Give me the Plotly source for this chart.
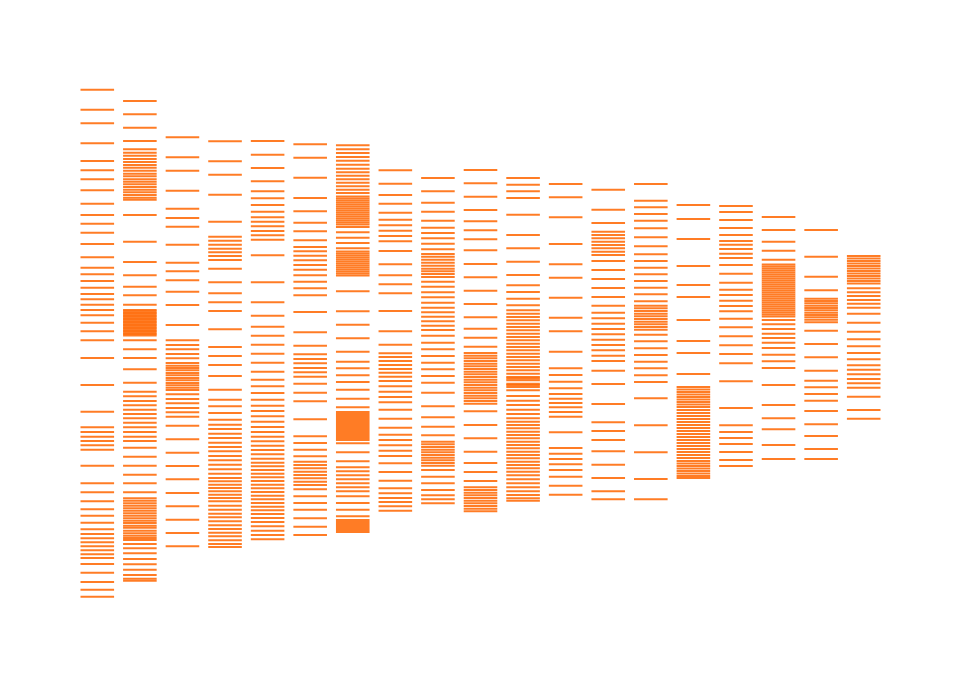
import plotly.graph_objects as go

categories = [f"G{i+1}" for i in range(19)]

g1 = [510.3, 490.3, 476.7, 456.7, 439, 429.7, 420.7, 409.7, 396.3, 385, 376.3, 367.3, 356, 342.7, 332.3, 325.7,
      319, 312.3, 306, 300.7, 295.3, 290, 284.7, 277.3, 268.7, 259.7, 242, 215, 188.3, 172.7, 168, 163.3, 159,
      154.7, 150.3, 134.3, 116.7, 107.7, 98.7, 90.7, 84.3, 77.3, 70.7, 66, 61.7, 57.7, 53.7, 49.7, 45.7, 42, 36,
      27.3, 18, 10.3, 3.3]
g2 = [499, 485.7, 472.3, 459, 450.7, 447.3, 444.3, 441, 438, 435, 432.3, 429.3, 426.3, 423.7, 420.7, 418.3, 415.7,
      413, 410.3, 407.7, 405, 402.3, 400.3, 385, 358.3, 338, 324.7, 313.3, 304.7, 295.3, 290, 288.5, 287, 285.5,
      284, 282.5, 281, 279.5, 278, 276.5, 275, 273.5, 272, 270.5, 269, 267.5, 266, 264.5, 259.7, 250.7, 242,
      230.7, 217.3, 208.3, 203.7, 199, 194.7, 190.3, 186, 181.7, 177.3, 172.7, 168, 163.3, 159, 152.3, 143.3,
      134.3, 125.3, 116.7, 107.7, 101.7, 99.3, 96.7, 94.3, 91.7, 89.3, 86.7, 84.3, 81.7, 79.3, 77, 74.3, 72.3,
      69.3, 66.7, 64.3, 62, 60, 56, 51.7, 46.7, 41, 35.7, 30.3, 25, 21.3, 19.3]
g3 = [462.7, 442.7, 429.3, 409.3, 391.3, 382, 373.3, 355.3, 337.3, 328.7, 319.7, 308.3, 295, 275, 259.7, 255,
      250.7, 246, 241.7, 237, 234.3, 232, 229.7, 227, 224.7, 222, 219.7, 217, 214.7, 212.3, 210, 205.7, 201,
      196.7, 192, 187.7, 183.3, 174.3, 160.7, 147.3, 134, 120.7, 107, 93.7, 80.3, 67, 53.7]
g4 = [458.7, 438.7, 425.3, 405.3, 378.3, 363.3, 359.3, 355.3, 351.3, 347.7, 344, 340, 331.3, 317.7, 306.7, 297.7,
      289, 270.7, 253, 244, 235, 224, 210.3, 200.3, 193.7, 187, 180.3, 175.3, 171, 166.3, 162, 157.3, 153,
      148.7, 144, 139.7, 135.3, 130.7, 126.3, 122, 118.7, 115.3, 112, 108.7, 105.3, 102, 98.7, 94.3, 90.3, 86.3,
      82.7, 78.7, 74.7, 71, 67.3, 63.7, 59.7, 56, 53]
g5 = [459, 445.3, 432, 418.7, 408.7, 401.7, 395, 388.3, 382.7, 378.3, 373.7, 369, 364.7, 360.3, 344.7, 317.7,
      297.7, 284.3, 273.3, 264.3, 255.3, 246.3, 237.3, 228.3, 220.3, 213.7, 207, 200.3, 194.3, 189, 183.7,
      178.3, 173, 168, 163.3, 158.7, 154.3, 150, 145.7, 141.3, 137.3, 133.7, 130, 126.3, 122.7, 119, 115.3,
      111.7, 108, 104.3, 100.7, 97, 93.3, 89.7, 86, 82, 78, 73.7, 69.3, 65, 60.7]
g6 = [455.7, 442.3, 422.3, 402, 388.7, 377.3, 368.7, 359.7, 353, 348.7, 344.3, 339.7, 335, 330.3, 324.7, 318.3,
      311.7, 304.7, 288, 267.7, 254.3, 245.7, 241, 236.7, 232, 227.7, 223.3, 216.3, 207.3, 198.7, 180.7, 163.7,
      157, 150.3, 143.7, 138.3, 135, 131.7, 128.3, 125, 121.7, 118.3, 115, 110.7, 103.7, 97, 90.3, 81.7, 73.3, 65]
g7 = [454.7, 450.7, 447, 443, 439.3, 435.3, 431.3, 427.7, 424.3, 420.7, 417.3, 413.7, 410.3, 407,
      403.5, 401.5, 399.5, 397.5, 395.5, 393.5, 391.5, 389.5, 387.5, 385.5, 383.5, 381.5, 379.5, 377.5, 375.5,
      373, 367.7, 362.3, 357, 351.7,
      348.5, 346.5, 344.5, 342.5, 340.5, 338.5, 336.5, 334.5, 332.5, 330.5, 328.5, 326.5, 324.5,
      308.7, 288.7, 275.3, 261.7, 248.3, 238.3, 231.7, 224.7, 218, 210.3, 201.3, 192.7,
      188, 186, 184, 182, 180, 178, 176, 174, 172, 170, 168, 166, 164, 162, 160,
      156.7, 147.7, 138.7, 132.7, 128.7, 124.7, 120.7, 116.7, 112.7, 108.7, 103.7, 97,
      90.3, 83.7, 80, 78, 76, 74, 72, 70, 68]
g8 = [429.7, 416.3, 405, 396.3, 387.3, 380.3, 374.7, 369.3, 364, 358.7, 349, 335.7, 324.7, 315.7, 306.7, 289,
      268.7, 255.3, 246.7, 243, 239, 235, 231, 227.3, 223.3, 219, 213.7, 208.3, 203, 197.7, 190.3, 181.3,
      172.3, 165.3, 160, 154.7, 149.3, 144, 136.7, 128, 119.3, 111.7, 106.7, 102, 98, 93.7, 89.3]
g9 = [422, 408.7, 397.3, 388.3, 379.3, 372.3, 367, 361.7, 356.3, 350.7, 346, 343.3, 340.3, 337.3, 334.3, 331.3,
      328.7, 326, 323, 318.3, 313.3, 307.7, 302.7, 297.3, 292.3, 287.7, 283.3, 278.7, 274.3, 270, 264.3,
      257.3, 250.7, 244, 237.3, 230.7, 224, 217.3, 207.3, 193.7, 182.7, 173.3, 164.7, 158.3, 155.7, 153,
      150.3, 147.7, 145, 142.3, 139.7, 137, 134.3, 130, 123.3, 116.7, 110, 104.7, 100.7, 96.7]
g10 = [430, 416.7, 403.3, 390, 378.7, 369.7, 360.7, 349.7, 336, 322.7, 309.3, 296, 282.7, 271.3, 262.3, 253.3,
       247, 244.3, 241.7, 239, 236.3, 233.7, 231, 228.3, 225.7, 223, 220.3, 217.7, 215, 212.3, 209.7, 207,
       204.3, 201.7, 199, 196.3, 188.7, 175, 161.7, 148.3, 137, 128, 119, 112.7, 110, 107.3, 104.7, 102, 99.3,
       96.7, 94, 91.3, 88.7]
g11 = [422, 415.3, 408.7, 402, 385.3, 365, 351.7, 338.3, 325, 314.7, 308, 301.3, 294.7, 289.7, 286.3, 283,
       279.7, 276.3, 273, 269.7, 266.3, 263, 259.7, 256.3, 253, 249.7, 246.3, 243, 239.7, 236.3, 233,
       229.7, 226.3, 223, 221.5, 219.7, 216.3, 215, 213, 209.7, 204, 199.3, 195,
       190.3, 186, 181.7, 178.3, 175, 171.7, 168.3, 165, 161.7, 158.3, 155, 151.7, 148.3, 145, 141.7, 138.3,
       135, 131.7, 128.3, 124.7, 120.7, 116.7, 112.7, 108.7, 105, 101.7, 99.3]
g12 = [416, 402.7, 382.7, 356, 335.7, 322.3, 302.3, 282.3, 268.7, 248.3, 231.7, 225, 218.3, 211.7, 206, 201.3,
       197, 192.7, 188, 183.3, 167.7, 152, 146.3, 141, 135.7, 130, 123.3, 114.3, 105.3]
g13 = [410.3, 390.3, 377, 368.3, 365, 361.7, 358.3, 355, 351.7, 348.3, 345, 339, 330, 321, 312, 303, 294.3,
       287.3, 281.7, 276.3, 271, 265.7, 260.3, 255, 249.7, 244.3, 239, 229.3, 216, 196, 177.7, 169, 160,
       148.7, 135.3, 122, 108.7, 100.7]
g14 = [416, 399.3, 392.7, 386, 379.3, 371.7, 362.7, 353.7, 345.7, 339, 332.3, 325.7, 319, 312.3, 305.7, 298.7,
       294.3, 291.7, 289, 286.3, 283.7, 281, 278.3, 275.7, 273, 270.3, 265.3, 258.7, 251.7, 245, 238.3, 231.7,
       224.7, 218, 201.7, 174.7, 147.7, 121, 100.7]
g15 = [395, 381, 361, 334, 315, 303, 280, 259, 247, 226, 213, 210.5, 208, 205.5, 203, 200.5, 198, 195.5, 193,
       190, 187, 184, 181, 178, 175, 172, 169, 166, 163, 160, 157, 154, 151, 148, 145, 142, 139, 136.5, 134,
       131.5, 129, 126.5, 124, 122]
g16 = [394, 388, 380, 372, 365, 359, 355.3, 351, 346.3, 342, 335, 326.3, 317.3, 310.3, 305, 299.3, 294, 288.7,
       281.3, 272.7, 263.7, 254.7, 246, 236.7, 218.7, 192, 174.7, 168, 162, 156, 148, 140, 134]
g17 = [383, 370, 358.3, 349.3, 340.3, 335.5, 333.5, 331.5, 329.5, 327.5, 325.5, 323.5, 321.5, 319.5, 317.5,
       315.5, 313.5, 311.5, 309.5, 307.5, 305.5, 303.5, 301.5, 299.5, 297.5, 295.5, 293.5, 291.5, 289.5,
       287.5, 285.5, 283.5, 280, 275.7, 271, 266.3, 262, 257.3, 252, 245.3, 238.7, 232, 215, 195, 181.7,
       170.7, 155, 141]
g18 = [370, 343.3, 323.3, 309.7, 301.3, 299, 296.7, 294.3, 292, 289.7, 287.3, 285, 282.7, 280.3, 277.7, 269.3,
       256, 242.7, 229.3, 219.3, 212.7, 206, 199.3, 189, 175.7, 164, 151, 141]
g19 = [344, 341.5, 339, 336.5, 334, 331.5, 329, 326.5, 324, 321.5, 319, 316.5, 311.7, 307.7, 304, 300, 296.3,
       292.3, 286.3, 277.3, 268.3, 260.7, 253.7, 247, 240.7, 234.7, 230.3, 225.7, 221, 216.7, 212.3, 203.3,
       190, 181.3]

series = [g1, g2, g3, g4, g5, g6, g7, g8, g9, g10, g11, g12, g13, g14, g15, g16, g17, g18, g19]

fig = go.Figure()
for i, vals in enumerate(series):
    fig.add_trace(go.Scatter(
        x=[i] * len(vals), y=vals, mode="markers", showlegend=False,
        marker=dict(symbol="line-ew", size=24, color="rgb(255,102,0)", opacity=0.85,
                    line=dict(color="rgb(255,102,0)", width=2)),
        name=categories[i],
    ))

fig.update_layout(
    width=960, height=686,
    margin=dict(l=68, r=83, t=67, b=69),
    paper_bgcolor="white", plot_bgcolor="white",
    xaxis=dict(visible=False, range=[-0.5, 18.5]),
    yaxis=dict(visible=False, range=[-25, 525]),
)
fig.write_html("out.html")
